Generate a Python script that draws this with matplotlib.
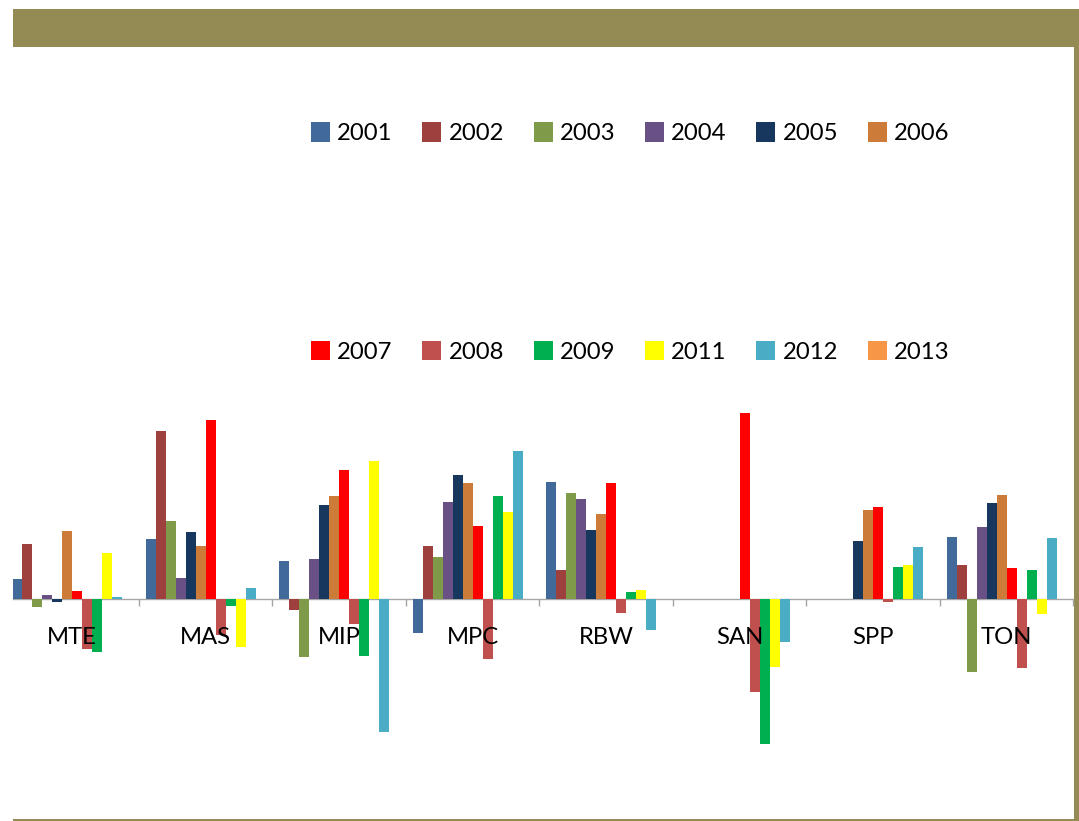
import numpy as np
import matplotlib
matplotlib.use("Agg")
import matplotlib.pyplot as plt
from matplotlib.patches import Rectangle

# ---------------- data ----------------
categories = ["MTE", "MAS", "MIP", "MPC", "RBW", "SAN", "SPP", "TON"]
years = ["2001", "2002", "2003", "2004", "2005", "2006",
         "2007", "2008", "2009", "2011", "2012", "2013"]

s2001 = [20.3, 60.3, 38.3, -33.7, 117.3, 0, 0, 62.3]
s2002 = [55.3, 168.3, -10.7, 53.3, 29.3, 0, 0, 34.3]
s2003 = [-7.3, 78.3, -57.7, 42.3, 106.3, 0, 0, -72.7]
s2004 = [4.3, 21.3, 40.3, 97.3, 100.3, 0, 0, 72.3]
s2005 = [-3.0, 67.3, 94.3, 124.3, 69.3, 0, 58.3, 96.3]
s2006 = [68.3, 53.3, 103.3, 116.3, 85.3, 0, 89.3, 104.3]
s2007 = [8.3, 179.3, 129.3, 73.3, 116.3, 186.3, 92.3, 31.3]
s2008 = [-49.3, -36.0, -24.7, -59.7, -13.3, -92.7, -2.3, -68.7]
s2009 = [-52.3, -6.3, -56.7, 103.3, 7.3, -144.3, 32.3, 29.3]
s2011 = [46.3, -47.7, 138.3, 87.3, 9.3, -67.7, 34.3, -14.3]
s2012 = [2.3, 11.3, -132.7, 148.3, -30.7, -42.7, 52.3, 61.3]
s2013 = [0, 0, 0, 0, 0, 0, 0, 0]

series = [s2001, s2002, s2003, s2004, s2005, s2006,
          s2007, s2008, s2009, s2011, s2012, s2013]

colors = ["#416A9B", "#9E413E", "#7F9A48", "#695185", "#17375E", "#CC7B38",
          "#FF0000", "#C0504D", "#00B050", "#FFFF00", "#4BACC6", "#F79646"]

# ---------------- figure ----------------
FONT = "Lato"
plt.rcParams["font.family"] = [FONT, "DejaVu Sans"]
FS = 17.2

W, H = 1079, 821
fig = plt.figure(figsize=(W / 100, H / 100), dpi=100)
fig.patch.set_facecolor("white")


def fx(px):
    return px / W


def fy(py):
    return 1 - py / H


# decorative frame
olive = "#948A54"
fig.add_artist(Rectangle((fx(13), fy(47)), fx(1079) - fx(13), fy(9) - fy(47),
                         transform=fig.transFigure, facecolor=olive,
                         edgecolor="none", zorder=0))
fig.add_artist(Rectangle((fx(1074), fy(821)), fx(1079) - fx(1074), fy(47) - fy(821),
                         transform=fig.transFigure, facecolor=olive,
                         edgecolor="none", zorder=0))
fig.add_artist(Rectangle((fx(13), fy(821)), fx(1079) - fx(13), fy(819.3) - fy(821),
                         transform=fig.transFigure, facecolor=olive,
                         edgecolor="none", zorder=0))

# axes (plot area)
ax_left_px, ax_right_px = 13, 1073.4
ax_top_px, ax_bot_px = 400, 760
ax = fig.add_axes([fx(ax_left_px), fy(ax_bot_px),
                   fx(ax_right_px) - fx(ax_left_px), fy(ax_top_px) - fy(ax_bot_px)])
ax.set_facecolor("none")
ax.set_axisbelow(False)

n_series = len(series)
x = np.arange(len(categories))
cat_px = (ax_right_px - 5.5) / len(categories)
bw = 10.0 / cat_px
for i, (vals, col) in enumerate(zip(series, colors)):
    ax.bar(x + (i - (n_series - 1) / 2) * bw, vals, width=bw, color=col,
           linewidth=0, zorder=2)

for s in ["top", "right", "left"]:
    ax.spines[s].set_visible(False)
ax.spines["bottom"].set_position(("data", 0))
ax.spines["bottom"].set_color("#A6A6A6")
ax.spines["bottom"].set_linewidth(1.0)
ax.spines["bottom"].set_zorder(1.8)
ax.set_yticks([])

ax.set_xticks(x)
ax.set_xticklabels(categories)
ax.tick_params(axis="x", which="major", length=0, pad=20.0,
               labelsize=FS, labelcolor="black")
ax.set_xticks(np.arange(len(categories) + 1) - 0.5, minor=True)
ax.tick_params(axis="x", which="minor", length=5.2, width=1.0, color="#A6A6A6",
               direction="out")

# limits (set after ticks so the tick positions do not widen them)
ax.set_xlim(-0.5 + (ax_left_px - 5.5) / cat_px, len(categories) - 0.5)
ax.set_ylim(-160.7, 199.3)

# legend (two rows of six)
leg_x0 = 311
leg_dx = 111.3
rows_y = [132, 350.3]
sq = 19
for k, (yr, col) in enumerate(zip(years, colors)):
    r, c = divmod(k, 6)
    lx = leg_x0 + c * leg_dx
    cy = rows_y[r]
    fig.add_artist(Rectangle((fx(lx), fy(cy + sq / 2)), fx(sq), fy(0) - fy(sq),
                             transform=fig.transFigure, facecolor=col,
                             edgecolor="none"))
    fig.text(fx(lx + 26.3), fy(cy), yr, fontsize=FS,
             va="center_baseline", ha="left", color="black")

fig.savefig("out.png", dpi=100, facecolor="white")
